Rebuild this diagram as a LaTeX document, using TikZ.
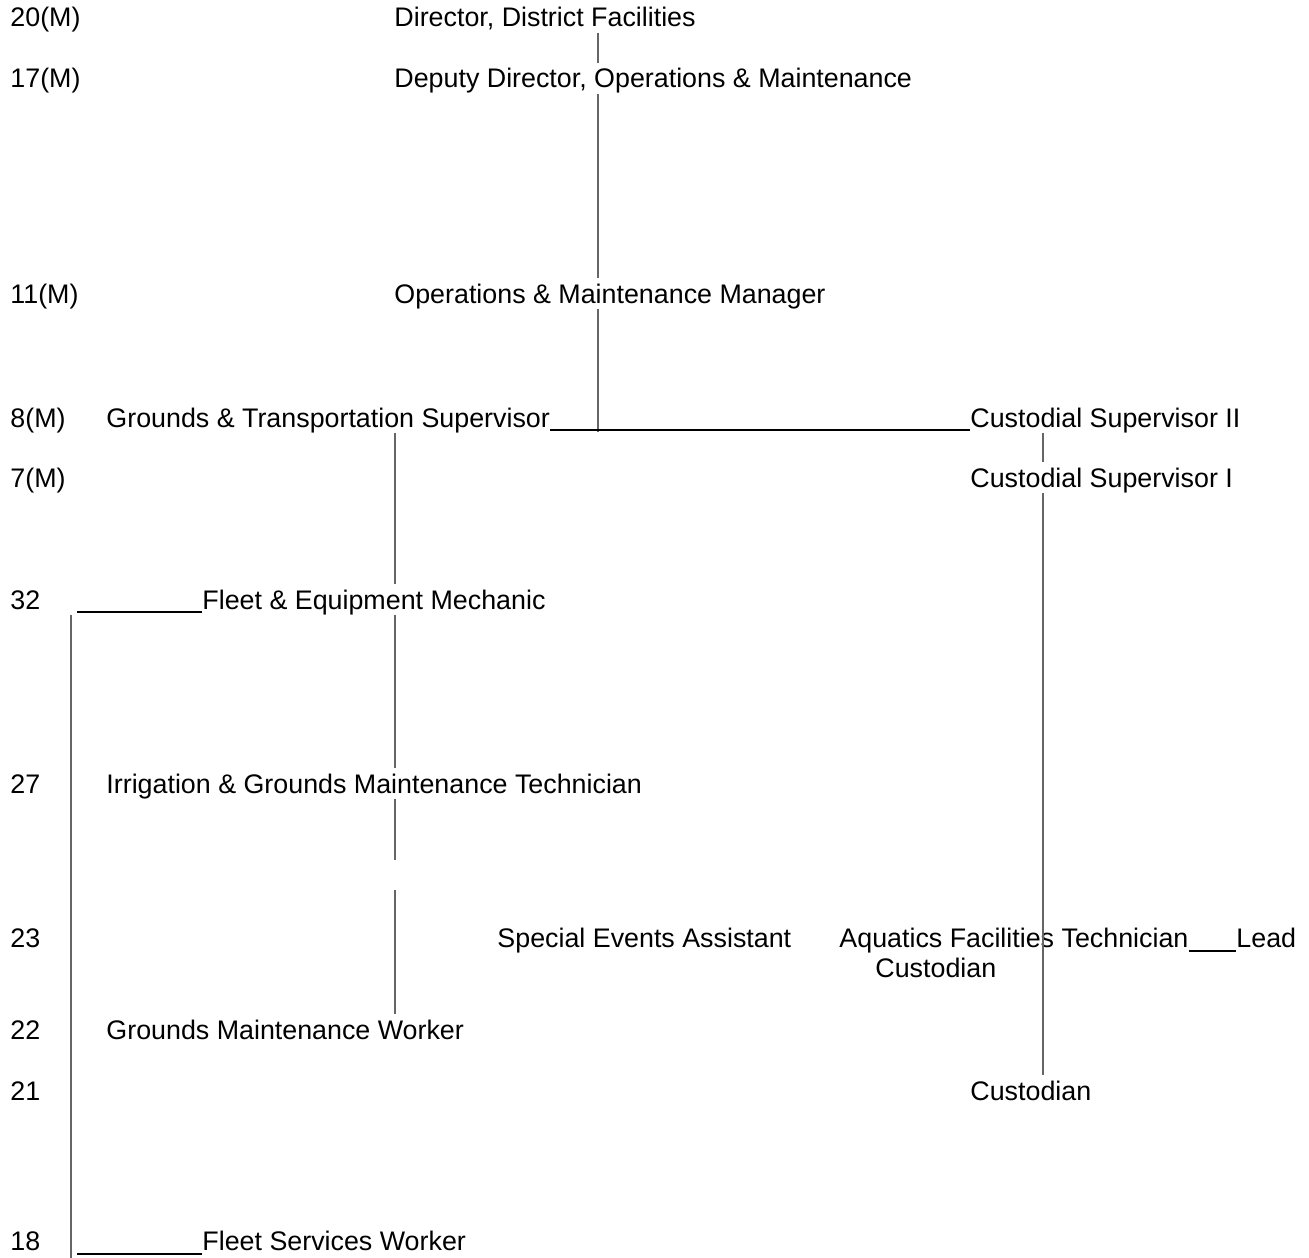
\documentclass[tikz,border=0pt]{standalone}
\usepackage{fontspec}
\setmainfont{Liberation Sans}
\begin{document}
\begin{tikzpicture}
  [x=0.4528pt, y=-0.4528pt,
   every node/.style={font=\fontsize{12.15}{14}\selectfont},
   job/.style={anchor=base west, inner sep=0pt, text height=11.3pt, text depth=2.3pt},
   grade/.style={job},
   vline/.style={draw=black!60, line width=0.55pt},
   hline/.style={draw=black, line width=0.8pt}]
  \useasboundingbox (0,0) rectangle (1309,1258);

  %Grade column
  \foreach \g/\yy [count=\i] in {20(M)/27,17(M)/88,11(M)/303,8(M)/427,7(M)/487,32/609,27/793,23/947,22/1039,21/1100,18/1250}
    \node[grade] (G\i) at (10,\yy) {\g};

  %Positions
  \node[job] (dir) at (394,27)   {Director, District Facilities};
  \node[job] (dep) at (394,88)   {Deputy Director, Operations \& Maintenance};
  \node[job] (opm) at (394,303)  {Operations \& Maintenance Manager};
  \node[job] (gts) at (106,427)  {Grounds \& Transportation Supervisor};
  \node[job] (cs2) at (970,427)  {Custodial Supervisor II};
  \node[job] (cs1) at (970,487)  {Custodial Supervisor I};
  \node[job] (fem) at (202,609)  {Fleet \& Equipment Mechanic};
  \node[job] (igm) at (106,793)  {Irrigation \& Grounds Maintenance Technician};
  \node[job] (sea) at (497,947)  {Special Events Assistant};
  \node[job] (aft) at (839,947)  {Aquatics Facilities Technician};
  \node[job] (lc1) at (1236,947) {Lead};
  \node[job] (lc2) at (875,977)  {Custodian};
  \node[job] (gmw) at (106,1039) {Grounds Maintenance Worker};
  \node[job] (cus) at (970,1100) {Custodian};
  \node[job] (fsw) at (202,1250) {Fleet Services Worker};

  %Line columns and loose ends
  \coordinate (mx) at (598,0);
  \coordinate (gx) at (395,0);
  \coordinate (cx) at (1043,0);
  \coordinate (lx) at (71,0);
  \coordinate (jn) at (598,432);
  \coordinate (g1) at (395,860);
  \coordinate (g2) at (395,890);
  \coordinate (lb) at (71,1258);
  \coordinate (f1) at (77,612);
  \coordinate (f2) at (77,1254);

  %Main line
  \draw[vline] (dir.south -| mx) -- (dep.north -| mx);
  \draw[vline] (dep.south -| mx) -- (opm.north -| mx);
  \draw[vline] (opm.south -| mx) -- (jn);
  \draw[hline] ([yshift=-1.5pt]gts.base east) -- ([yshift=-1.5pt]cs2.base west);

  %Custodial line
  \draw[vline] (cs2.south -| cx) -- (cs1.north -| cx);
  \draw[vline] (cs1.south -| cx) -- (cus.north -| cx);
  \draw[hline] ([yshift=-1.7pt]aft.base east) -- ([yshift=-1.7pt]lc1.base west);

  %Grounds line
  \draw[vline] (gts.south -| gx) -- (fem.north -| gx);
  \draw[vline] (fem.south -| gx) -- (igm.north -| gx);
  \draw[vline] (igm.south -| gx) -- (g1);
  \draw[vline] (g2) -- (gmw.north -| gx);

  %Fleet line
  \draw[vline] (fem.south -| lx) -- (lb);
  \draw[hline] (f1) -- (f1 -| fem.west);
  \draw[hline] (f2) -- (f2 -| fsw.west);
\end{tikzpicture}
\end{document}
